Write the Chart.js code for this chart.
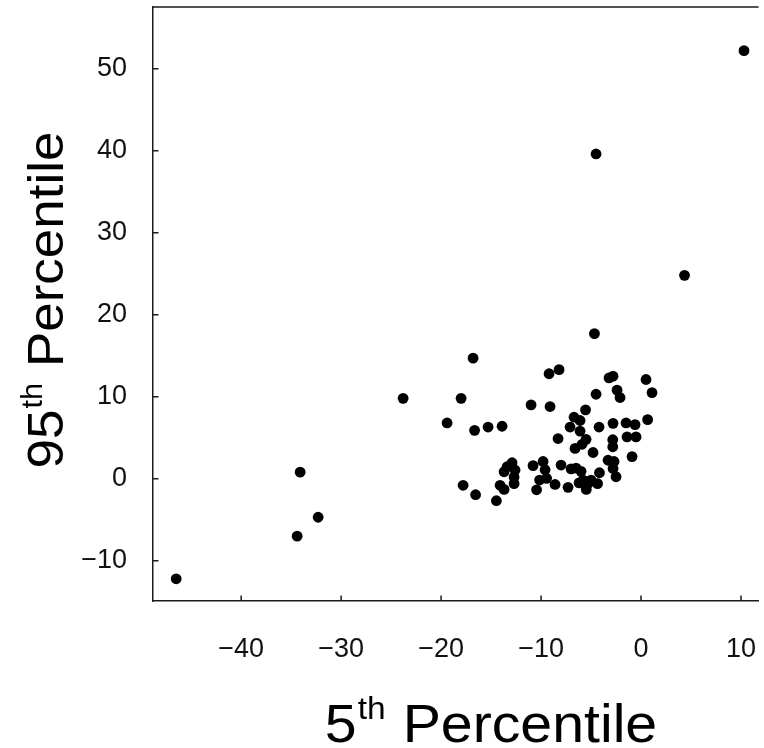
<!DOCTYPE html>
<html>
<head>
<meta charset="utf-8">
<script src="https://cdn.jsdelivr.net/npm/chart.js@4/dist/chart.umd.min.js"></script>
<style>
  body { margin: 0; background: #fff; }
  canvas { display: block; }
</style>
</head>
<body>
<canvas id="myChart" width="764" height="748"></canvas>
<script>
// data: 5th percentile (x) vs 95th percentile (y)
var p5 = [
  -46.5, -34.1, -32.3, -34.4, -23.8, -4.5, 4.35, 10.3, -4.66,
  -16.8, -9.2, -8.2, -18.0, -11.0, -9.1, -19.4, -16.65, -15.3, -13.9,
  -3.2, -2.8, 0.5, 1.1, -2.4, -2.1, -4.5, -5.55, -6.7, -6.1, -7.1, -4.2,
  -2.8, -1.5, -0.6, 0.66, -6.1, -8.3, -5.5, -5.9, -6.6, -4.8, -2.83, -2.83,
  -1.4, -0.5, -0.9, -3.3, -2.7, -2.8, -2.5, -4.16,
  -10.8, -9.8, -9.6, -8.0, -7.0, -6.5, -6.0, -10.15, -9.45, -10.45, -8.6,
  -7.3, -6.2, -5.8, -5.3, -5.48, -4.35, -5.0,
  -12.9, -13.7, -12.6, -12.7, -12.7, -14.1, -13.7, -17.8, -16.55, -14.47, -13.4
];
var p95 = [
  -12.2, 0.8, -4.7, -7.0, 9.8, 39.6, 24.8, 52.2, 17.7,
  14.7, 12.8, 13.3, 9.8, 9.0, 8.8, 6.8, 5.9, 6.3, 6.4,
  12.3, 12.5, 12.1, 10.5, 10.8, 9.9, 10.3, 8.4, 7.5, 7.1, 6.3, 6.3,
  6.75, 6.8, 6.6, 7.2, 5.8, 4.9, 4.8, 4.2, 3.7, 3.2, 4.75, 3.9,
  5.1, 5.1, 2.7, 2.25, 2.1, 1.25, 0.24, 0.73,
  1.6, 2.1, 1.1, 1.67, 1.2, 1.3, 0.9, -0.16, 0.05, -1.35, -0.7,
  -1.05, -0.5, -0.16, -0.57, -1.3, -0.6, -0.16,
  1.95, 0.85, 1.06, 0.2, -0.6, -0.8, -1.3, -0.8, -1.95, -2.68, 1.46
];
var xTicks = [-40, -30, -20, -10, 0, 10];
var yTicks = [-10, 0, 10, 20, 30, 40, 50];
var xLabel = ['5', 'th', ' Percentile'];
var yLabel = ['95', 'th', ' Percentile'];

var points = p5.map(function (x, i) { return { x: x, y: p95[i] }; });

function minusSign(v) {
    return String(v).replace('-', '\u2212');
}

var fontFamily = '"Liberation Sans", Arial, sans-serif';
var axisColor = '#1a1a1a';

// inward tick marks, top border line, and the two titles with superscripts
var framePlugin = {
    id: 'frame',
    afterDraw: function (chart) {
        var ctx = chart.ctx;
        var area = chart.chartArea;
        var xs = chart.scales.x;
        var ys = chart.scales.y;
        ctx.save();
        ctx.strokeStyle = axisColor;
        ctx.lineWidth = 1.5;
        ctx.beginPath();
        ctx.moveTo(area.left, area.top);
        ctx.lineTo(area.right, area.top);
        xTicks.forEach(function (v) {
            var px = xs.getPixelForValue(v);
            ctx.moveTo(px, area.bottom);
            ctx.lineTo(px, area.bottom - 5.5);
        });
        yTicks.forEach(function (v) {
            var py = ys.getPixelForValue(v);
            ctx.moveTo(area.left, py);
            ctx.lineTo(area.left + 5.5, py);
        });
        ctx.stroke();

        // titles
        ctx.fillStyle = '#000';
        ctx.textBaseline = 'alphabetic';
        ctx.textAlign = 'left';

        function drawTitle(parts, size, supSize, lift) {
            var big = size + 'px ' + fontFamily;
            var small = supSize + 'px ' + fontFamily;
            ctx.font = big; var a = ctx.measureText(parts[0]).width;
            ctx.font = small; var b = ctx.measureText(parts[1]).width;
            ctx.font = big; var c = ctx.measureText(parts[2]).width;
            var x0 = -(a + b + c + 2) / 2;
            ctx.font = big; ctx.fillText(parts[0], x0, 0);
            ctx.font = small; ctx.fillText(parts[1], x0 + a + 1, -lift);
            ctx.font = big; ctx.fillText(parts[2], x0 + a + b + 2, 0);
        }

        ctx.save();
        ctx.translate(491, 742);
        ctx.scale(1.08, 1);
        drawTitle(xLabel, 53, 31, 23);
        ctx.restore();

        ctx.save();
        ctx.translate(63, 300);
        ctx.rotate(-Math.PI / 2);
        ctx.scale(1.06, 1);
        drawTitle(yLabel, 50, 29, 21);
        ctx.restore();

        ctx.restore();
    }
};

var config = {
    type: 'scatter',
    data: {
        datasets: [{
            data: points,
            backgroundColor: '#000',
            borderWidth: 0,
            pointRadius: 5.4,
            pointHoverRadius: 5.4
        }]
    },
    options: {
        responsive: false,
        animation: false,
        devicePixelRatio: 1,
        layout: { padding: { top: 7, right: 0, left: 0, bottom: 0 } },
        plugins: {
            legend: { display: false },
            tooltip: { enabled: false }
        },
        scales: {
            x: {
                type: 'linear',
                min: -48.82,
                max: 11.76,
                afterBuildTicks: function (scale) {
                    scale.ticks = xTicks.map(function (v) { return { value: v }; });
                },
                afterFit: function (scale) {
                    scale.height = 147;
                    scale.paddingLeft = 0; scale.paddingRight = 0;
                    scale.paddingTop = 0; scale.paddingBottom = 0;
                },
                grid: { display: false, drawTicks: false },
                border: { display: true, color: axisColor, width: 1.5 },
                ticks: {
                    padding: 32,
                    color: '#111',
                    maxRotation: 0,
                    font: { family: fontFamily, size: 27 },
                    callback: function (v) { return minusSign(v); }
                }
            },
            y: {
                type: 'linear',
                min: -14.91,
                max: 57.52,
                afterBuildTicks: function (scale) {
                    scale.ticks = yTicks.map(function (v) { return { value: v }; });
                },
                afterFit: function (scale) {
                    scale.width = 153;
                    scale.paddingLeft = 0; scale.paddingRight = 0;
                    scale.paddingTop = 0; scale.paddingBottom = 0;
                },
                grid: { display: false, drawTicks: false },
                border: { display: true, color: axisColor, width: 1.5 },
                ticks: {
                    padding: 26,
                    color: '#111',
                    font: { family: fontFamily, size: 27 },
                    callback: function (v) { return minusSign(v); }
                }
            }
        }
    },
    plugins: [framePlugin]
};

var myChart = new Chart(document.getElementById('myChart'), config);
</script>
</body>
</html>
